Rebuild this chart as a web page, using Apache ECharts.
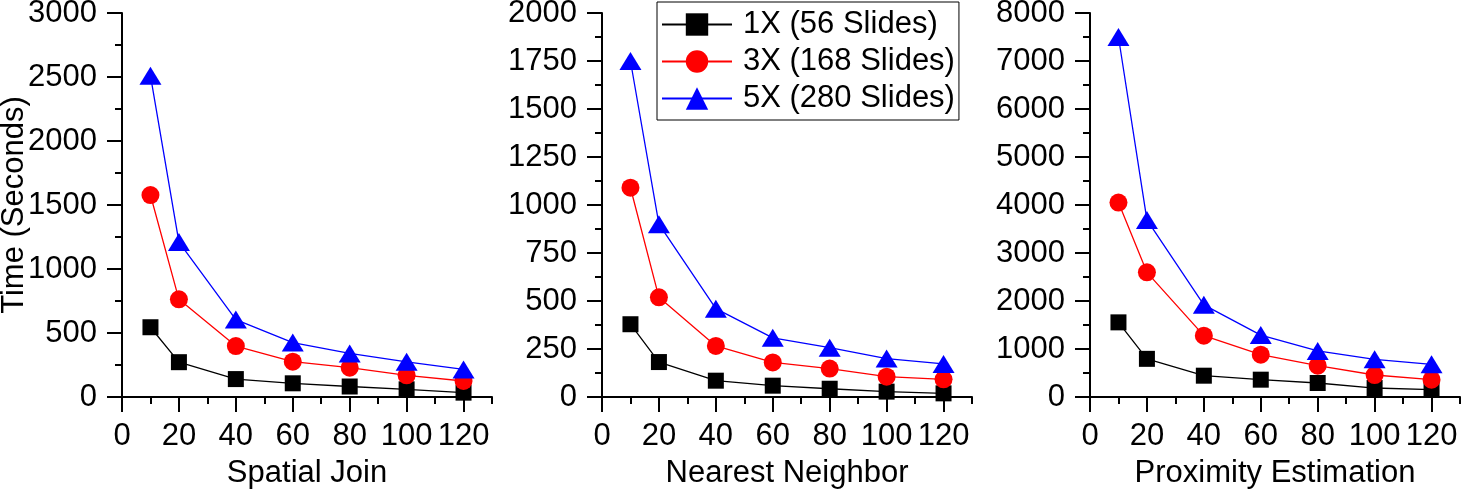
<!DOCTYPE html>
<html>
<head>
<meta charset="utf-8">
<script src="https://cdn.jsdelivr.net/npm/echarts@6/dist/echarts.min.js"></script>
<style>
  html, body { margin: 0; padding: 0; background: #fff; }
  #chart { width: 1462px; height: 491px; }
</style>
</head>
<body>
<div id="chart"></div>
<script>
// x values (number of ... per run)
const xValues = [10, 20, 40, 60, 80, 100, 120]
const xTickLabels = [0, 20, 40, 60, 80, 100, 120]
const seriesNames = ['1X (56 Slides)', '3X (168 Slides)', '5X (280 Slides)']
const panelNames = ['Spatial Join', 'Nearest Neighbor', 'Proximity Estimation']

// Spatial Join
const joinX1 = [545, 272, 140, 107, 82, 60, 34]
const joinX3 = [1578, 763, 398, 276, 229, 169, 125]
const joinX5 = [2510, 1210, 605, 425, 340, 275, 215]

// Nearest Neighbor
const nnX1 = [379, 182, 85, 59, 43, 28, 19]
const nnX3 = [1090, 519, 266, 180, 148, 106, 92]
const nnX5 = [1750, 900, 460, 308, 257, 200, 172]

// Proximity Estimation
const proxX1 = [1555, 795, 444, 361, 292, 187, 152]
const proxX3 = [4050, 2597, 1278, 881, 653, 458, 361]
const proxX5 = [7500, 3690, 1920, 1290, 960, 785, 680]

const yMax = [3000, 2000, 8000]
const yInterval = [500, 250, 1000]

const panelData = [
  [joinX1, joinX3, joinX5],
  [nnX1, nnX3, nnX5],
  [proxX1, proxX3, proxX5]
]

const colors = ['#000000', '#ff0000', '#0000ff']
const symbols = ['rect', 'circle', 'triangle']
const symbolSizes = [16, 18, [22, 18]]
const font = 'Liberation Sans, Arial, sans-serif'
const fs = 31

const grids = [
  { left: 122, top: 13, width: 370, height: 384, outerBoundsMode: 'none' },
  { left: 602, top: 13, width: 370, height: 384, outerBoundsMode: 'none' },
  { left: 1090, top: 13, width: 370, height: 384, outerBoundsMode: 'none' }
]

let xAxis = []
let yAxis = []
let series = []

grids.forEach((g, i) => {
  // minor-length ticks every 10
  xAxis.push({
    gridIndex: i,
    type: 'value',
    position: 'bottom',
    min: 0,
    max: 130,
    interval: 10,
    axisLine: { lineStyle: { color: '#000', width: 2 } },
    axisTick: { inside: false, length: 7, lineStyle: { color: '#000', width: 2 } },
    axisLabel: { show: false },
    splitLine: { show: false }
  })
  // major ticks + labels
  xAxis.push({
    gridIndex: i,
    type: 'value',
    position: 'bottom',
    min: 0,
    max: 130,
    name: panelNames[i],
    nameLocation: 'middle',
    nameGap: 61,
    nameMoveOverlap: false,
    nameTextStyle: { fontFamily: font, fontSize: fs, color: '#000' },
    axisLine: { show: false },
    axisTick: { length: 15, customValues: xTickLabels, lineStyle: { color: '#000', width: 2 } },
    axisLabel: { customValues: xTickLabels, margin: 24, fontFamily: font, fontSize: fs, color: '#000' },
    splitLine: { show: false }
  })
  yAxis.push({
    gridIndex: i,
    type: 'value',
    min: 0,
    max: yMax[i],
    interval: yInterval[i],
    name: i === 0 ? 'Time (Seconds)' : '',
    nameLocation: 'middle',
    nameGap: 92,
    nameMoveOverlap: false,
    nameTextStyle: { fontFamily: font, fontSize: fs, color: '#000' },
    axisLine: { show: true, lineStyle: { color: '#000', width: 2 } },
    axisTick: { show: true, length: 15, lineStyle: { color: '#000', width: 2 } },
    minorTick: { show: true, splitNumber: 2, length: 7, lineStyle: { color: '#000', width: 2 } },
    axisLabel: { margin: 25, fontFamily: font, fontSize: fs, color: '#000', formatter: v => String(v) },
    splitLine: { show: false }
  })
  panelData[i].forEach((vals, k) => {
    series.push({
      name: seriesNames[k],
      type: 'line',
      xAxisIndex: i * 2,
      yAxisIndex: i,
      data: xValues.map((x, j) => [x, vals[j]]),
      symbol: symbols[k],
      symbolSize: symbolSizes[k],
      showAllSymbol: true,
      z: 2 + k,
      lineStyle: { color: colors[k], width: 1.3 },
      itemStyle: { color: colors[k] }
    })
  })
})

const chart = echarts.init(document.getElementById('chart'), null, { renderer: 'canvas' })
chart.setOption({
  animation: false,
  grid: grids,
  legend: {
    orient: 'vertical',
    left: 657,
    top: 2,
    padding: [7, 4, 6, 4],
    itemWidth: 70,
    itemHeight: 28,
    itemGap: 6,
    borderColor: '#000',
    borderWidth: 1,
    data: seriesNames,
    textStyle: { fontFamily: font, fontSize: fs, color: '#000', padding: [0, 0, 0, 6] }
  },
  xAxis: xAxis,
  yAxis: yAxis,
  series: series
})
</script>
</body>
</html>
